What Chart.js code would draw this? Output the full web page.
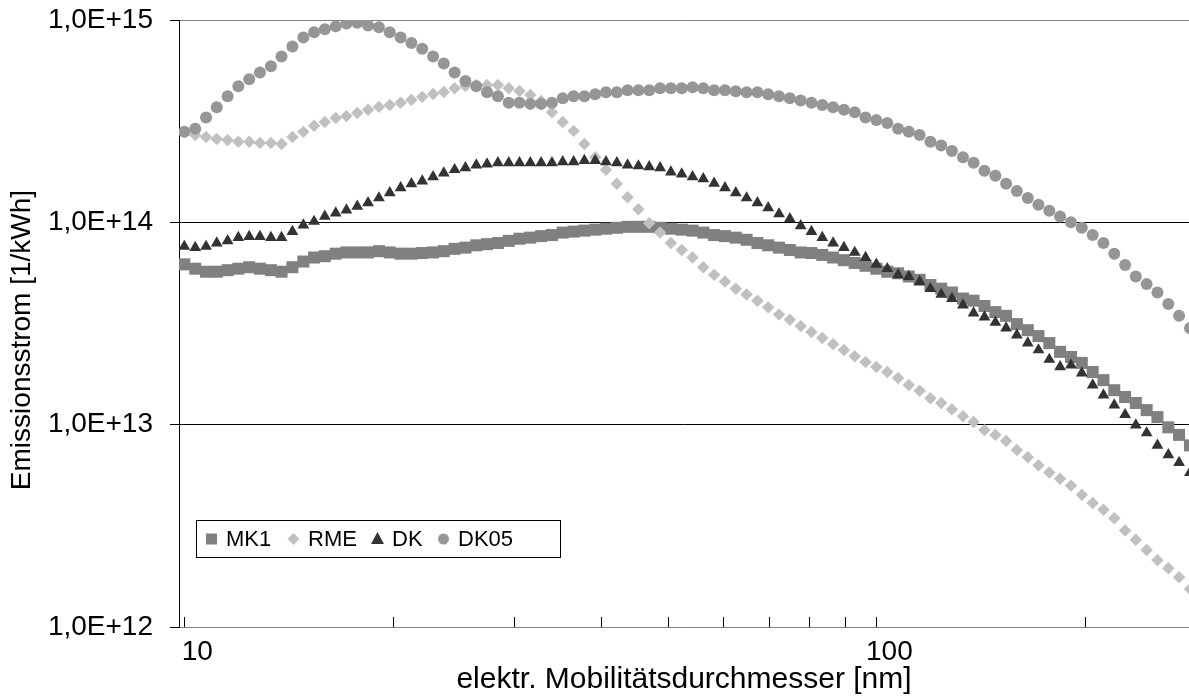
<!DOCTYPE html>
<html>
<head>
<meta charset="utf-8">
<script src="https://cdn.jsdelivr.net/npm/chart.js@4"></script>
<style>
  html, body { margin: 0; padding: 0; background: #fff; }
  #wrap { width: 1189px; height: 700px; }
</style>
</head>
<body>
<div id="wrap"><canvas id="myChart" width="1189" height="700"></canvas></div>
<script>
// mobility diameters [nm], 64 channels per decade
const diameters = [10.00, 10.37, 10.75, 11.14, 11.55, 11.97, 12.41, 12.86, 13.34, 13.82,
  14.33, 14.86, 15.40, 15.96, 16.55, 17.15, 17.78, 18.43, 19.11, 19.81,
  20.54, 21.29, 22.07, 22.88, 23.71, 24.58, 25.48, 26.42, 27.38, 28.39,
  29.43, 30.50, 31.62, 32.78, 33.98, 35.22, 36.52, 37.85, 39.24, 40.67,
  42.17, 43.71, 45.31, 46.97, 48.70, 50.48, 52.33, 54.25, 56.23, 58.29,
  60.43, 62.65, 64.94, 67.32, 69.78, 72.34, 74.99, 77.74, 80.58, 83.54,
  86.60, 89.77, 93.06, 96.47, 100.0, 103.7, 107.5, 111.4, 115.5, 119.7,
  124.1, 128.6, 133.4, 138.2, 143.3, 148.6, 154.0, 159.6, 165.5, 171.5,
  177.8, 184.3, 191.1, 198.1, 205.4, 212.9, 220.7, 228.8, 237.1, 245.8,
  254.8, 264.2, 273.8, 283.9];

const mk1 = [6.2e13, 5.9e13, 5.7e13, 5.7e13, 5.8e13, 5.9e13, 6.0e13, 5.9e13, 5.8e13, 5.7e13,
  6.0e13, 6.4e13, 6.7e13, 6.8e13, 7.0e13, 7.1e13, 7.1e13, 7.1e13, 7.2e13, 7.1e13,
  7.0e13, 7.0e13, 7.05e13, 7.1e13, 7.2e13, 7.4e13, 7.5e13, 7.7e13, 7.8e13, 7.9e13,
  8.1e13, 8.3e13, 8.4e13, 8.55e13, 8.65e13, 8.9e13, 9.0e13, 9.1e13, 9.2e13, 9.3e13,
  9.4e13, 9.5e13, 9.5e13, 9.5e13, 9.4e13, 9.3e13, 9.2e13, 9.1e13, 8.9e13, 8.65e13,
  8.55e13, 8.4e13, 8.2e13, 7.9e13, 7.7e13, 7.5e13, 7.3e13, 7.1e13, 7.05e13, 6.9e13,
  6.7e13, 6.5e13, 6.3e13, 6.1e13, 5.9e13, 5.7e13, 5.6e13, 5.4e13, 5.2e13, 4.9e13,
  4.7e13, 4.5e13, 4.2e13, 4.1e13, 3.86e13, 3.6e13, 3.45e13, 3.14e13, 2.93e13, 2.74e13,
  2.53e13, 2.29e13, 2.16e13, 2.02e13, 1.82e13, 1.66e13, 1.48e13, 1.37e13, 1.28e13, 1.18e13,
  1.09e13, 9.7e12, 8.9e12, 7.9e12];

const rme = [2.8e14, 2.7e14, 2.64e14, 2.58e14, 2.55e14, 2.5e14, 2.5e14, 2.47e14, 2.47e14, 2.44e14,
  2.64e14, 2.8e14, 3.0e14, 3.13e14, 3.28e14, 3.35e14, 3.47e14, 3.6e14, 3.72e14, 3.8e14,
  3.9e14, 4.03e14, 4.17e14, 4.31e14, 4.41e14, 4.6e14, 4.72e14, 4.77e14, 4.77e14, 4.77e14,
  4.6e14, 4.46e14, 4.26e14, 3.98e14, 3.5e14, 3.13e14, 2.83e14, 2.44e14, 2.1e14, 1.82e14,
  1.55e14, 1.33e14, 1.16e14, 9.9e13, 8.9e13, 7.9e13, 7.3e13, 6.7e13, 6.0e13, 5.5e13,
  5.1e13, 4.7e13, 4.4e13, 4.1e13, 3.8e13, 3.5e13, 3.3e13, 3.07e13, 2.87e13, 2.68e13,
  2.5e13, 2.34e13, 2.18e13, 2.04e13, 1.93e13, 1.82e13, 1.7e13, 1.57e13, 1.47e13, 1.35e13,
  1.28e13, 1.19e13, 1.1e13, 1.03e13, 9.4e12, 8.9e12, 8.3e12, 7.5e12, 6.9e12, 6.3e12,
  5.8e12, 5.4e12, 5.0e12, 4.5e12, 4.1e12, 3.8e12, 3.45e12, 3.0e12, 2.7e12, 2.4e12,
  2.14e12, 1.95e12, 1.76e12, 1.54e12];

const dk = [7.6e13, 7.5e13, 7.6e13, 7.9e13, 8.1e13, 8.4e13, 8.5e13, 8.5e13, 8.4e13, 8.4e13,
  9.0e13, 9.7e13, 1.01e14, 1.07e14, 1.11e14, 1.15e14, 1.2e14, 1.25e14, 1.32e14, 1.4e14,
  1.48e14, 1.55e14, 1.6e14, 1.68e14, 1.75e14, 1.82e14, 1.86e14, 1.92e14, 1.94e14, 1.97e14,
  1.97e14, 1.97e14, 1.97e14, 1.97e14, 1.97e14, 1.99e14, 1.99e14, 2.02e14, 2.02e14, 1.99e14,
  1.97e14, 1.92e14, 1.9e14, 1.88e14, 1.86e14, 1.77e14, 1.73e14, 1.68e14, 1.64e14, 1.56e14,
  1.48e14, 1.4e14, 1.32e14, 1.25e14, 1.18e14, 1.1e14, 1.04e14, 9.6e13, 9.0e13, 8.4e13,
  7.9e13, 7.5e13, 7.1e13, 6.7e13, 6.2e13, 5.9e13, 5.5e13, 5.4e13, 5.1e13, 4.7e13,
  4.4e13, 4.2e13, 3.9e13, 3.56e13, 3.4e13, 3.2e13, 3.0e13, 2.77e13, 2.53e13, 2.34e13,
  2.1e13, 1.93e13, 1.97e13, 1.8e13, 1.57e13, 1.4e13, 1.25e13, 1.12e13, 9.95e12, 9.1e12,
  7.9e12, 7.1e12, 6.5e12, 5.8e12];

const dk05 = [2.8e14, 2.9e14, 3.3e14, 3.7e14, 4.2e14, 4.7e14, 5.1e14, 5.5e14, 5.9e14, 6.6e14,
  7.4e14, 8.2e14, 8.7e14, 9.0e14, 9.3e14, 9.6e14, 9.7e14, 9.4e14, 9.2e14, 8.7e14,
  8.2e14, 7.7e14, 7.2e14, 6.6e14, 6.1e14, 5.5e14, 5.0e14, 4.7e14, 4.4e14, 4.2e14,
  3.9e14, 3.9e14, 3.85e14, 3.85e14, 3.9e14, 4.1e14, 4.2e14, 4.2e14, 4.3e14, 4.4e14,
  4.4e14, 4.5e14, 4.5e14, 4.5e14, 4.6e14, 4.6e14, 4.6e14, 4.65e14, 4.6e14, 4.5e14,
  4.5e14, 4.45e14, 4.4e14, 4.4e14, 4.3e14, 4.2e14, 4.1e14, 4.0e14, 3.9e14, 3.8e14,
  3.7e14, 3.6e14, 3.5e14, 3.3e14, 3.2e14, 3.1e14, 2.9e14, 2.8e14, 2.7e14, 2.5e14,
  2.4e14, 2.25e14, 2.1e14, 1.97e14, 1.8e14, 1.7e14, 1.55e14, 1.43e14, 1.32e14, 1.22e14,
  1.14e14, 1.07e14, 1.0e14, 9.4e13, 8.65e13, 7.9e13, 7.0e13, 6.15e13, 5.4e13, 4.95e13,
  4.5e13, 3.95e13, 3.45e13, 3.0e13];

const xTicks = [10, 20, 30, 40, 50, 60, 70, 80, 90, 100, 200];
const xTickLabels = ['10', '', '', '', '', '', '', '', '', '100', ''];
const yTicks = [1e12, 1e13, 1e14, 1e15];
const yTickLabels = ['1,0E+12', '1,0E+13', '1,0E+14', '1,0E+15'];

const FONT = '"Liberation Sans", Arial, sans-serif';

function series(label, values, color, style, radius, order) {
    return {
        label: label,
        data: diameters.map((d, i) => ({ x: d, y: values[i] })),
        backgroundColor: color,
        borderColor: color,
        borderWidth: 0,
        pointStyle: style,
        pointRadius: radius,
        pointHoverRadius: radius,
        order: order
    };
}

// small ticks pointing up into the plot from the x axis
const innerTicks = {
    id: 'innerTicks',
    beforeDatasetsDraw(chart) {
        const ctx = chart.ctx;
        const x = chart.scales.x;
        ctx.save();
        ctx.strokeStyle = '#000';
        ctx.lineWidth = 1;
        x.ticks.forEach(t => {
            const px = Math.round(x.getPixelForValue(t.value)) + 0.5;
            ctx.beginPath();
            ctx.moveTo(px, x.top);
            ctx.lineTo(px, x.top - 10);
            ctx.stroke();
        });
        ctx.restore();
    }
};

// y axis title, placed like the original (a bit below the plot centre)
const yTitle = {
    id: 'yTitle',
    afterDraw(chart) {
        const ctx = chart.ctx;
        ctx.save();
        ctx.translate(22, 340);
        ctx.rotate(-Math.PI / 2);
        ctx.font = '28px ' + FONT;
        ctx.fillStyle = '#000';
        ctx.textAlign = 'center';
        ctx.textBaseline = 'middle';
        ctx.fillText('Emissionsstrom [1/kWh]', 0, 0);
        ctx.restore();
    }
};

function marker(ctx, style, cx, cy) {
    ctx.beginPath();
    if (style === 'rect') {
        ctx.rect(cx - 5.5, cy - 5.5, 11, 11);
    } else if (style === 'rectRot') {
        ctx.moveTo(cx - 6, cy); ctx.lineTo(cx, cy - 6); ctx.lineTo(cx + 6, cy); ctx.lineTo(cx, cy + 6);
    } else if (style === 'triangle') {
        ctx.moveTo(cx, cy - 7); ctx.lineTo(cx + 6.5, cy + 5); ctx.lineTo(cx - 6.5, cy + 5);
    } else {
        ctx.arc(cx, cy, 5.5, 0, Math.PI * 2);
    }
    ctx.closePath();
    ctx.fill();
}

// legend box inside the plot, bottom left
const legendBox = {
    id: 'legendBox',
    afterDraw(chart) {
        const ctx = chart.ctx;
        const spots = [[211.5, 226], [293.5, 308], [377.5, 392], [443.5, 458]];
        ctx.save();
        ctx.fillStyle = '#fff';
        ctx.fillRect(197, 521, 363, 36);
        ctx.strokeStyle = '#000';
        ctx.lineWidth = 1;
        ctx.strokeRect(196.5, 520.5, 364, 37);
        ctx.font = '22px ' + FONT;
        ctx.textBaseline = 'alphabetic';
        chart.data.datasets.forEach((ds, i) => {
            ctx.fillStyle = ds.backgroundColor;
            marker(ctx, ds.pointStyle, spots[i][0], 539);
            ctx.fillStyle = '#000';
            ctx.fillText(ds.label, spots[i][1], 546);
        });
        ctx.restore();
    }
};

Chart.defaults.font.family = FONT;
Chart.defaults.color = '#000';

const ctx = document.getElementById('myChart');
const chart = new Chart(ctx, {
    type: 'scatter',
    data: {
        datasets: [
            series('MK1', mk1, '#808080', 'rect', 8.5, 4),
            series('RME', rme, '#c0c0c0', 'rectRot', 6.2, 3),
            series('DK', dk, '#333333', 'triangle', 6.8, 2),
            series('DK05', dk05, '#969696', 'circle', 6, 1)
        ]
    },
    options: {
        responsive: false,
        animation: false,
        devicePixelRatio: 1,
        layout: { autoPadding: false, padding: { top: 20, right: 0, bottom: 0, left: 0 } },
        plugins: {
            legend: { display: false },
            tooltip: { enabled: false }
        },
        scales: {
            x: {
                type: 'logarithmic',
                min: 9.825,
                max: 283,
                afterBuildTicks: s => { s.ticks = xTicks.map(v => ({ value: v })); },
                afterFit: s => {
                    s.height = 73;
                    s.paddingLeft = 0;
                    s.paddingRight = 0;
                },
                grid: { display: false, drawTicks: false },
                border: { color: '#808080', width: 1 },
                ticks: {
                    autoSkip: false,
                    maxRotation: 0,
                    padding: 8,
                    labelOffset: 13,
                    font: { size: 28 },
                    callback: (v, i) => xTickLabels[i]
                },
                title: {
                    display: true,
                    text: 'elektr. Mobilitätsdurchmesser [nm]',
                    font: { size: 30 },
                    padding: { top: 0, bottom: 2 }
                }
            },
            y: {
                type: 'logarithmic',
                min: 1e12,
                max: 1e15,
                afterBuildTicks: s => { s.ticks = yTicks.map(v => ({ value: v })); },
                afterFit: s => {
                    s.width = 179;
                    s.paddingTop = 0;
                    s.paddingBottom = 0;
                },
                grid: {
                    color: c => {
                        if (!c.tick) return '#000';
                        if (c.tick.value === 1e15) return '#808080';
                        if (c.tick.value === 1e12) return 'rgba(0,0,0,0)';
                        return '#000';
                    },
                    tickColor: '#000',
                    tickLength: 9,
                    lineWidth: 1
                },
                border: { color: '#000', width: 1 },
                ticks: {
                    padding: 17,
                    font: { size: 28 },
                    callback: (v, i) => yTickLabels[i]
                },
                title: { display: false }
            }
        }
    },
    plugins: [innerTicks, yTitle, legendBox]
});
</script>
</body>
</html>
